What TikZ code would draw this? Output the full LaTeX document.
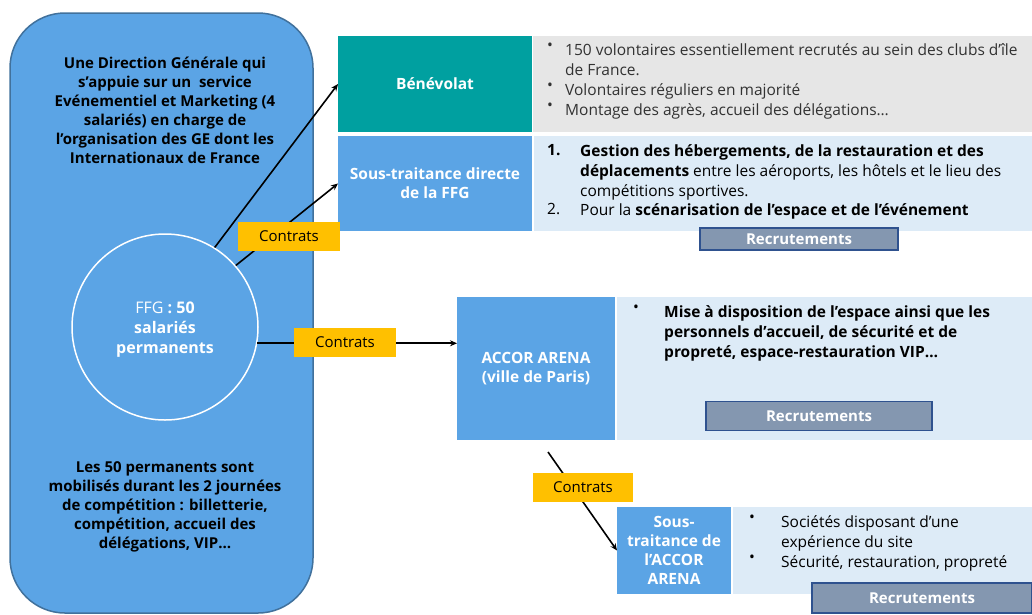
\documentclass[tikz,border=0pt]{standalone}
\usepackage{fontspec}
\setmainfont{Open Sans}
\usetikzlibrary{arrows.meta}
\definecolor{boxblue}{RGB}{91,164,229}
\definecolor{borderblue}{RGB}{65,113,156}
\definecolor{tealbox}{RGB}{0,160,160}
\definecolor{lgray}{RGB}{230,230,230}
\definecolor{lblue}{RGB}{221,235,247}
\definecolor{recfill}{RGB}{132,151,176}
\definecolor{recborder}{RGB}{47,82,143}
\definecolor{ctryellow}{RGB}{255,192,0}
\definecolor{txtgray}{RGB}{50,50,50}
\begin{document}
\begin{tikzpicture}[x=1pt,y=-1pt,
  box/.style={anchor=north west, inner sep=0pt, outer sep=0pt},
  whitebold/.style={text=white, font=\bfseries\fontsize{15.5}{19}\selectfont, align=center},
  lefttxt/.style={font=\bfseries\fontsize{15}{19}\selectfont, align=center, inner sep=0pt},
  itemtxt/.style={font=\fontsize{15.5}{20}\selectfont, align=left, anchor=north west, inner sep=0pt, text=txtgray},
  rec/.style={fill=recfill, draw=recborder, line width=1.5pt, text=white, font=\bfseries\fontsize{15}{18}\selectfont, inner sep=0pt},
  ctr/.style={fill=ctryellow, minimum width=102pt, minimum height=29pt, inner sep=0pt, font=\fontsize{15}{18}\selectfont},
  arr/.style={line width=1.6pt, -{Stealth[length=7pt,width=6pt]}}]
\useasboundingbox (0,0) rectangle (1032,614);
% left panel
\node[box, draw=borderblue, line width=1.5pt, fill=boxblue, rounded corners=55pt, minimum width=303pt, minimum height=600pt] (left) at (10,13) {};
\node[lefttxt] (dg) at (165,110) {Une Direction Générale qui\\s’appuie sur un \ service\\Evénementiel et Marketing (4\\salariés) en charge de\\l’organisation des GE dont les\\Internationaux de France};
\node[circle, draw=white, line width=1.5pt, minimum size=186pt, inner sep=0pt, text=white, align=center, font=\fontsize{16}{20}\selectfont] (ffg) at (165,327) {};
\node[text=white, align=center, font=\fontsize{16}{20}\selectfont] (ffgtxt) at (165,330) {FFG \textbf{: 50}\\\textbf{salariés}\\\textbf{permanents}};
\node[lefttxt] (perm) at (165,507) {Les 50 permanents sont\\mobilisés durant les 2 journées\\de compétition : billetterie,\\compétition, accueil des\\délégations, VIP…};
% top-right rows
\node[box, fill=tealbox, minimum width=194pt, minimum height=96pt] (benev) at (338,36) {};
\node[whitebold] at (benev.center) {Bénévolat};
\node[box, fill=lgray, minimum width=499pt, minimum height=96pt] (benevtxt) at (533,36) {};
\node[box, fill=boxblue, minimum width=194pt, minimum height=95pt] (st1) at (338,136) {};
\node[whitebold] at (st1.center) {Sous-traitance directe\\de la FFG};
\node[box, fill=lblue, minimum width=498pt, minimum height=95pt] (st1txt) at (534,136) {};
\node[rec, minimum width=198pt, minimum height=22pt] (rec1) at (799,239) {Recrutements};
% bullets row 1
\node[itemtxt] (b1a) at (547,43) {•};
\node[itemtxt] (t1a) at (565,43) {150 volontaires essentiellement recrutés au sein des clubs d'île\\de France.};
\node[itemtxt] (b1b) at (547,83) {•};
\node[itemtxt] (t1b) at (565,83) {Volontaires réguliers en majorité};
\node[itemtxt] (b1c) at (547,103) {•};
\node[itemtxt] (t1c) at (565,103) {Montage des agrès, accueil des délégations…};
% row 2
\node[itemtxt, text=black] (n2a) at (547,144) {\textbf{1.}};
\node[itemtxt, text=black] (t2a) at (580,144) {\textbf{Gestion des hébergements, de la restauration et des}\\\textbf{déplacements} entre les aéroports, les hôtels et le lieu des\\compétitions sportives.};
\node[itemtxt, text=black] (n2b) at (547,203) {2.};
\node[itemtxt, text=black] (t2b) at (580,203) {Pour la \textbf{scénarisation de l'espace et de l'événement}};
% ACCOR
\node[box, fill=boxblue, minimum width=158pt, minimum height=143pt] (accor) at (457,297) {};
\node[whitebold] at (accor.center) {ACCOR ARENA\\(ville de Paris)};
\node[box, fill=lblue, minimum width=415pt, minimum height=143pt] (accortxt) at (617,297) {};
\node[itemtxt, text=black] (b3) at (633,305) {•};
\node[itemtxt, text=black, font=\bfseries\fontsize{15.5}{20}\selectfont] (t3) at (664,305) {Mise à disposition de l’espace ainsi que les\\personnels d'accueil, de sécurité et de\\propreté, espace-restauration VIP…};
\node[rec, minimum width=226pt, minimum height=29pt] (rec2) at (819,416) {Recrutements};
% sous-traitance ACCOR
\node[box, fill=boxblue, minimum width=114pt, minimum height=87pt] (st2) at (617,507) {};
\node[whitebold] at (st2.center) {Sous-\\traitance de\\l’ACCOR\\ARENA};
\node[box, fill=lblue, minimum width=299pt, minimum height=87pt] (st2txt) at (733,507) {};
\node[itemtxt, text=black] (b4a) at (749,515) {•};
\node[itemtxt, text=black] (t4a) at (781,515) {Sociétés disposant d’une\\expérience du site};
\node[itemtxt, text=black] (b4b) at (749,555) {•};
\node[itemtxt, text=black] (t4b) at (781,555) {Sécurité, restauration, propreté};
\node[rec, minimum width=220pt, minimum height=30pt] (rec3) at (922,598) {Recrutements};
% connectors
\draw[arr] (ffg.58) -- (benev.west);
\draw[arr] (ffg.41) -- (st1.west);
\draw[arr] (ffg.-10) -- (ffg.-10 -| accor.west);
\coordinate (a3s) at (548,452);
\draw[arr] (a3s) -- (st2.west);
\node[ctr] (c1) at (289,236.5) {Contrats};
\node[ctr] (c2) at (345,342.5) {Contrats};
\node[ctr, minimum width=100pt] (c3) at (583,487) {Contrats};
\end{tikzpicture}
\end{document}
